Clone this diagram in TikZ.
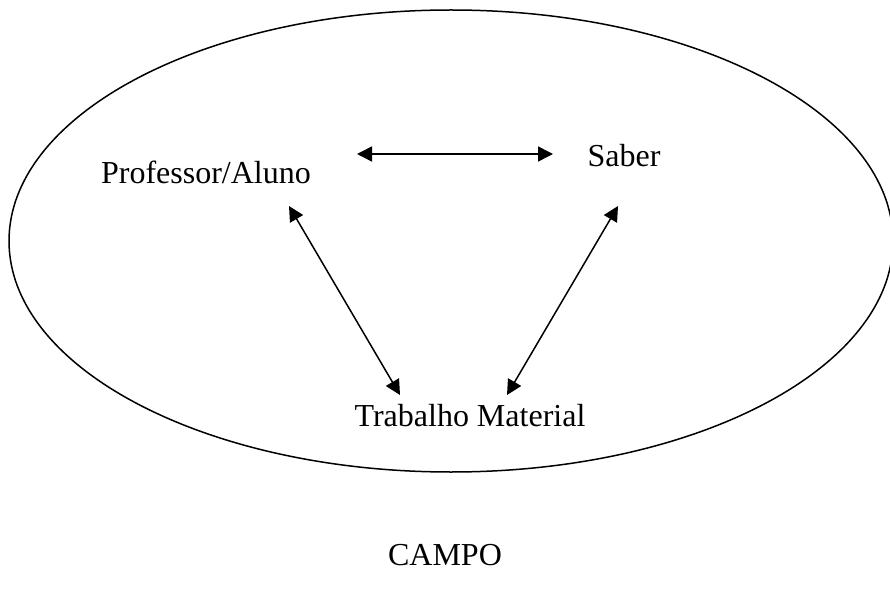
\documentclass[tikz,border=0pt]{standalone}
\usepackage{fontspec}
\setmainfont{Liberation Serif}
\usetikzlibrary{arrows.meta,shapes.geometric}
\begin{document}
\begin{tikzpicture}[x=1pt,y=-1pt,
  lbl/.style={font=\fontsize{32}{38}\selectfont, inner sep=0pt, anchor=base},
  conn/.style={line width=1.5pt, {Triangle[length=15pt,width=15pt]}-{Triangle[length=15pt,width=15pt]}}]
\useasboundingbox (0,0) rectangle (890,593);
\node[draw, line width=1.5pt, ellipse, minimum width=884pt, minimum height=462pt, inner sep=0pt] (campo) at (451,241) {};
\node[lbl] (prof) at (206,184) {Professor/Aluno};
\node[lbl] (saber) at (624,167) {Saber};
\node[lbl] (trab) at (470,426) {Trabalho Material};
\node[lbl] (lab) at (445,565) {CAMPO};
\coordinate (h1) at (357,154);
\coordinate (h2) at (553,154);
\coordinate (l1) at (289,206);
\coordinate (l2) at (400,395);
\coordinate (r1) at (618,206);
\coordinate (r2) at (507,395);
\draw[conn] (h1) -- (h2);
\draw[conn] (l1) -- (l2);
\draw[conn] (r1) -- (r2);
\end{tikzpicture}
\end{document}
